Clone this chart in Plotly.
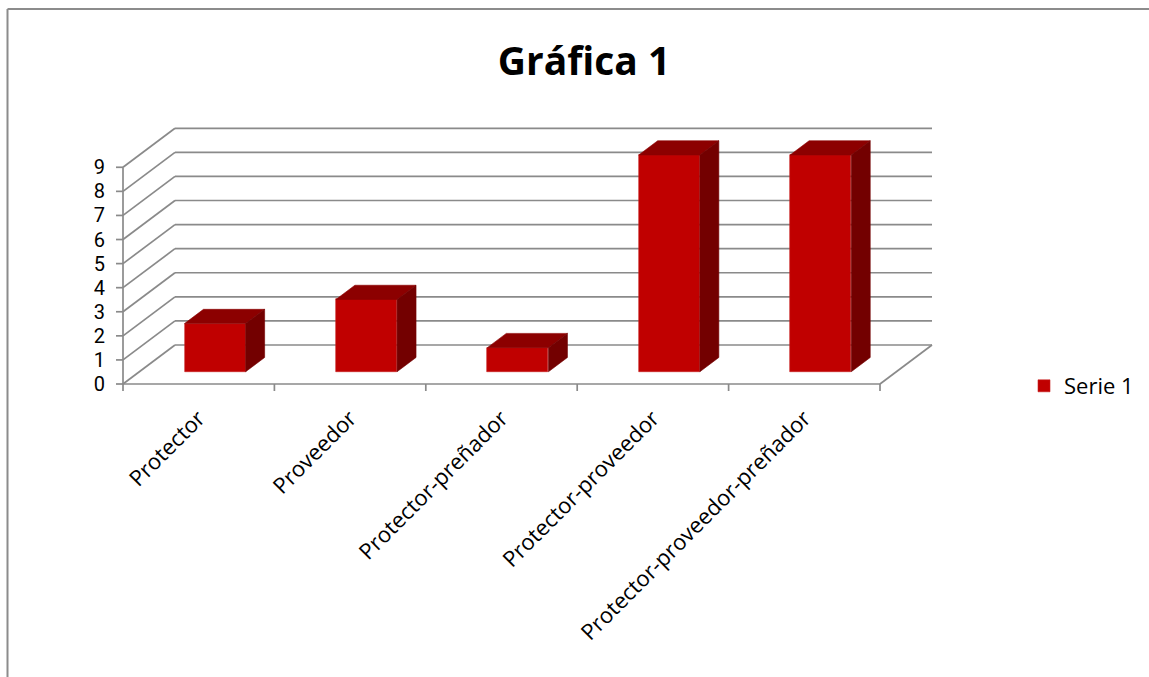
import plotly.graph_objects as go

# ---- data ----
categories = ["Protector", "Proveedor", "Protector-preñador",
              "Protector-proveedor", "Protector-proveedor-preñador"]
values = [2, 3, 1, 9, 9]
y_ticks = [0, 1, 2, 3, 4, 5, 6, 7, 8, 9]
series_name = "Serie 1"

# ---- geometry (pixel layout of the pseudo-3D box) ----
FIG_W, FIG_H = 1149, 677
OX, OY = 123.0, 384.0          # pixel of front-floor origin
SX, SY = 151.4, 24.08          # px per category / px per unit
P_L, P_R, P_T, P_B = 115, 941, 120, 391
DX = 52.0 / SX                 # depth offset in data units
DY = 39.0 / SY
BW = 0.404                     # bar width (category units)
F0, F1 = 0.315, 0.68           # bar depth span (fraction of floor depth)

xr = [(P_L - OX) / SX, (P_R - OX) / SX]
yr = [(OY - P_B) / SY, (OY - P_T) / SY]

GRID = "#8a8a8a"
GW = 1.7
shapes = []


def seg(x0, y0, x1, y1):
    shapes.append(dict(type="line", xref="x", yref="y", x0=x0, y0=y0, x1=x1, y1=y1,
                       line=dict(color=GRID, width=GW), layer="below"))


n = len(categories)
# back wall gridlines & left wall diagonals
for v in y_ticks:
    seg(DX, v + DY, n + DX, v + DY)
    seg(0, v, DX, v + DY)
    seg(-7 / SX, v, 0, v)             # y tick marks
# front axis line, floor front, floor right edge
seg(0, 0, 0, max(y_ticks))
seg(0, 0, n, 0)
seg(n, 0, n + DX, DY)
for i in range(n + 1):
    seg(i, 0, i, -7 / SY)            # category tick marks

# outer chart border (paper coords)
pw, ph = P_R - P_L, P_B - P_T


def px2paper(px, py):
    return (px - P_L) / pw, (P_B - py) / ph


bx0, by0 = px2paper(7.5, 9)
bx1, _ = px2paper(FIG_W + 5, 9)
_, by1 = px2paper(7.5, FIG_H + 5)
shapes.append(dict(type="line", xref="paper", yref="paper", x0=bx0, y0=by0, x1=bx1, y1=by0,
                   line=dict(color="#8c8c8c", width=2)))
shapes.append(dict(type="line", xref="paper", yref="paper", x0=bx0, y0=by0, x1=bx0, y1=by1,
                   line=dict(color="#8c8c8c", width=2)))

fig = go.Figure()

# front faces
xc = [i + 0.5 + F0 * DX for i in range(n)]
fig.add_trace(go.Bar(
    x=xc, y=values, base=F0 * DY, width=BW, name=series_name,
    marker=dict(color="#C00000", line=dict(color="#C82020", width=0.6)),
    showlegend=True, hoverinfo="skip"))

# top and side faces
dd_x = (F1 - F0) * DX
dd_y = (F1 - F0) * DY
top_x, top_y, side_x, side_y = [], [], [], []
for i, v in enumerate(values):
    fl = xc[i] - BW / 2
    fr = xc[i] + BW / 2
    b = F0 * DY
    t = b + v
    top_x += [fl, fr, fr + dd_x, fl + dd_x, fl, None]
    top_y += [t, t, t + dd_y, t + dd_y, t, None]
    side_x += [fr, fr + dd_x, fr + dd_x, fr, fr, None]
    side_y += [b, b + dd_y, t + dd_y, t, b, None]

fig.add_trace(go.Scatter(x=top_x, y=top_y, mode="lines", fill="toself",
                         fillcolor="#8C0000", line=dict(color="#8C0000", width=0.6),
                         showlegend=False, hoverinfo="skip"))
fig.add_trace(go.Scatter(x=side_x, y=side_y, mode="lines", fill="toself",
                         fillcolor="#730000", line=dict(color="#730000", width=0.6),
                         showlegend=False, hoverinfo="skip"))

FONT = "Open Sans"
fig.update_layout(
    width=FIG_W, height=FIG_H,
    margin=dict(l=P_L, r=FIG_W - P_R, t=P_T, b=FIG_H - P_B, pad=0),
    paper_bgcolor="white", plot_bgcolor="white",
    font=dict(family=FONT, size=21, color="black"),
    title=dict(text="<b>Gráfica 1</b>", xref="container", yref="container",
               x=584 / FIG_W, y=1 - 61 / FIG_H, xanchor="center", yanchor="middle",
               font=dict(family=FONT, size=39, color="black")),
    xaxis=dict(range=xr, showgrid=False, zeroline=False, showline=False,
               tickmode="array", tickvals=[i + 0.5 for i in range(n)], ticktext=categories,
               tickangle=-45, ticks="", ticklabelstandoff=9, tickfont=dict(size=22)),
    yaxis=dict(range=yr, showgrid=False, zeroline=False, showline=False,
               tickmode="array", tickvals=y_ticks, ticktext=[str(v) for v in y_ticks],
               ticks="", ticklabelstandoff=9,
               tickfont=dict(family="Roboto", size=20)),
    shapes=shapes,
    showlegend=True,
    legend=dict(xref="container", yref="container", x=1024 / FIG_W, y=1 - 386 / FIG_H,
                xanchor="left", yanchor="middle", font=dict(size=22),
                bgcolor="rgba(0,0,0,0)", itemwidth=30),
    bargap=0,
)

fig.write_html("out.html")
